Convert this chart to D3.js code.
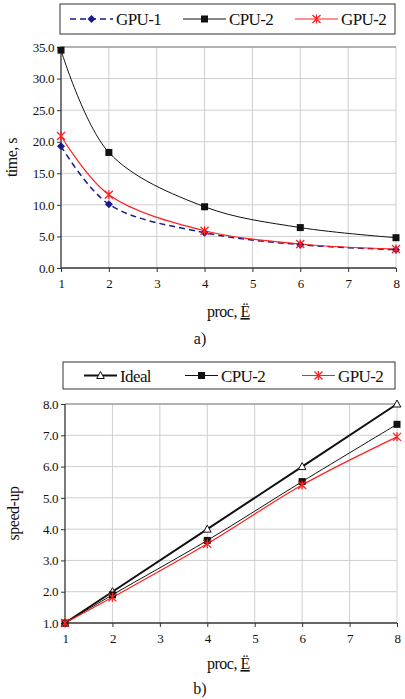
<!DOCTYPE html>
<html>
<head>
<meta charset="utf-8">
<script src="https://cdn.jsdelivr.net/npm/d3@7"></script>
<style>
  body { margin: 0; background: #fff; }
  svg text { font-family: "Liberation Serif", "Times New Roman", serif; fill: #111; }
</style>
</head>
<body>
<svg id="chart" width="405" height="699"></svg>
<script>
// data
var procs = [1, 2, 4, 6, 8];
var procTicks = [1, 2, 3, 4, 5, 6, 7, 8];

var timeGpu1 = [19.3, 10.1, 5.6, 3.7, 2.9];
var timeCpu2 = [34.5, 18.3, 9.7, 6.4, 4.8];
var timeGpu2 = [20.9, 11.6, 5.9, 3.8, 3.0];
var timeTicks = [0, 5, 10, 15, 20, 25, 30, 35];

var speedIdeal = [1, 2, 4, 6, 8];
var speedCpu2 = [1.0, 1.9, 3.64, 5.52, 7.35];
var speedGpu2 = [1.0, 1.82, 3.53, 5.41, 6.95];
var speedTicks = [1, 2, 3, 4, 5, 6, 7, 8];

var svg = d3.select('#chart');

function marker(g, type, x, y, color) {
	if (type === 'diamond') {
		var r = 4;
		g.append('path').attr('d', 'M' + x + ',' + (y - r) + 'L' + (x + r) + ',' + y + 'L' + x + ',' + (y + r) + 'L' + (x - r) + ',' + y + 'Z')
			.attr('fill', color);
	} else if (type === 'square') {
		g.append('rect').attr('x', x - 3.5).attr('y', y - 3.5).attr('width', 7).attr('height', 7).attr('fill', color);
	} else if (type === 'star') {
		var s = 4;
		g.append('path')
			.attr('d', 'M' + (x - s) + ',' + (y - s) + 'L' + (x + s) + ',' + (y + s) +
				'M' + (x - s) + ',' + (y + s) + 'L' + (x + s) + ',' + (y - s) +
				'M' + x + ',' + (y - s - 0.5) + 'L' + x + ',' + (y + s + 0.5))
			.attr('stroke', color).attr('stroke-width', 1.3).attr('fill', 'none');
	} else if (type === 'triangle') {
		g.append('path').attr('d', 'M' + x + ',' + (y - 4) + 'L' + (x + 3.8) + ',' + (y + 3) + 'L' + (x - 3.8) + ',' + (y + 3) + 'Z')
			.attr('fill', '#fff').attr('stroke', color).attr('stroke-width', 1);
	}
}

function drawChart(cfg) {
	var x = d3.scaleLinear().domain([1, 8]).range([cfg.left, cfg.right]);
	var y = d3.scaleLinear().domain(cfg.yDomain).range([cfg.bottom, cfg.top]);
	var g = svg.append('g');

	//* grid
	g.append('g').selectAll('line.v').data(procTicks.slice(1)).enter().append('line')
		.attr('x1', function(d){ return x(d); }).attr('x2', function(d){ return x(d); })
		.attr('y1', cfg.top).attr('y2', cfg.bottom)
		.attr('stroke', '#cfcfcf').attr('stroke-width', 1);
	g.append('g').selectAll('line.h').data(cfg.yTicks.slice(1)).enter().append('line')
		.attr('x1', cfg.left).attr('x2', cfg.right)
		.attr('y1', function(d){ return y(d); }).attr('y2', function(d){ return y(d); })
		.attr('stroke', function(d, i){ return i === cfg.yTicks.length - 2 ? '#9a9a9a' : '#cfcfcf'; })
		.attr('stroke-width', function(d, i){ return i === cfg.yTicks.length - 2 ? 1.5 : 1; });

	//* axes
	var xAxis = d3.axisBottom(x).tickValues(procTicks).tickSize(4).tickPadding(7).tickFormat(d3.format('d'));
	var yAxis = d3.axisLeft(y).tickValues(cfg.yTicks).tickSize(4).tickPadding(3).tickFormat(d3.format('.1f'));
	var gx = g.append('g').attr('transform', 'translate(0,' + cfg.bottom + ')').call(xAxis);
	var gy = g.append('g').attr('transform', 'translate(' + cfg.left + ',0)').call(yAxis);
	[gx, gy].forEach(function(a){
		a.select('.domain').attr('stroke', '#333').attr('stroke-width', 1.3);
		a.selectAll('.tick line').attr('stroke', '#333');
		a.selectAll('.tick text').attr('font-family', 'Liberation Serif').attr('font-size', 13)
			.attr('letter-spacing', -0.4).attr('fill', '#222');
	});
	gy.select('.domain').attr('d', 'M0,' + cfg.bottom + 'V' + cfg.top);
	gx.select('.domain').attr('d', 'M' + cfg.left + ',0H' + cfg.right);

	//* series
	cfg.series.forEach(function(s){
		var line = d3.line()
			.x(function(d, i){ return x(procs[i]); })
			.y(function(d){ return y(d); })
			.curve(s.smooth ? d3.curveCatmullRom : d3.curveLinear);
		g.append('path').datum(s.values).attr('d', line)
			.attr('fill', 'none').attr('stroke', s.color).attr('stroke-width', s.width)
			.attr('stroke-dasharray', s.dash || null);
	});
	cfg.series.forEach(function(s){
		s.values.forEach(function(v, i){ marker(g, s.marker, x(procs[i]), y(v), s.markerColor || s.color); });
	});

	//* legend
	g.append('rect').attr('x', cfg.legend.x).attr('y', cfg.legend.y)
		.attr('width', cfg.legend.w).attr('height', cfg.legend.h)
		.attr('fill', '#fff').attr('stroke', '#333').attr('stroke-width', 1);
	var cy = cfg.legend.y + cfg.legend.h / 2;
	cfg.series.forEach(function(s, i){
		var lx = cfg.legend.items[i];
		g.append('line').attr('x1', lx).attr('x2', lx + cfg.legend.sample)
			.attr('y1', cy).attr('y2', cy)
			.attr('stroke', s.color).attr('stroke-width', s.width)
			.attr('stroke-dasharray', s.dash || null);
		marker(g, s.marker, lx + cfg.legend.sample / 2, cy, s.markerColor || s.color);
		g.append('text').attr('x', lx + cfg.legend.sample + 3).attr('y', cy + 6)
			.attr('font-size', 17).attr('letter-spacing', -0.6).text(s.name);
	});

	//* labels
	g.append('text')
		.attr('transform', 'translate(' + cfg.yLabelX + ',' + ((cfg.top + cfg.bottom) / 2) + ') rotate(-90)')
		.attr('text-anchor', 'middle').attr('font-size', 16).attr('letter-spacing', -0.5)
		.text(cfg.yLabel);
	var xl = g.append('text').attr('x', 207).attr('y', cfg.xLabelY)
		.attr('font-size', 16).attr('letter-spacing', -0.5);
	xl.append('tspan').text('proc, ');
	xl.append('tspan').attr('text-decoration', 'underline').text('Ë ');
	g.append('text').attr('x', 200).attr('y', cfg.captionY)
		.attr('text-anchor', 'middle').attr('font-size', 16).text(cfg.caption);
}

drawChart({
	left: 61, right: 396, top: 47, bottom: 268,
	yDomain: [0, 35], yTicks: timeTicks,
	yLabel: 'time, s', yLabelX: 17,
	xLabelY: 317, caption: 'a)', captionY: 344,
	legend: { x: 60, y: 4, w: 335, h: 30, sample: 43, items: [70, 183, 295] },
	series: [
		{ name: 'GPU-1', values: timeGpu1, color: '#1a1a8c', width: 1.5, dash: '6,4', marker: 'diamond', smooth: true },
		{ name: 'CPU-2', values: timeCpu2, color: '#111', width: 1, marker: 'square', smooth: true },
		{ name: 'GPU-2', values: timeGpu2, color: '#ff2020', width: 1.2, marker: 'star', smooth: true }
	]
});

drawChart({
	left: 65, right: 397, top: 404, bottom: 623,
	yDomain: [1, 8], yTicks: speedTicks,
	yLabel: 'speed-up', yLabelX: 19,
	xLabelY: 669, caption: 'b)', captionY: 694,
	legend: { x: 63, y: 362, w: 332, h: 27, sample: 33, items: [84, 185, 302] },
	series: [
		{ name: 'Ideal', values: speedIdeal, color: '#111', width: 2, marker: 'triangle' },
		{ name: 'CPU-2', values: speedCpu2, color: '#111', width: 1, marker: 'square', smooth: true },
		{ name: 'GPU-2', values: speedGpu2, color: '#ff2020', width: 1.2, marker: 'star', smooth: true }
	]
});
</script>
</body>
</html>
